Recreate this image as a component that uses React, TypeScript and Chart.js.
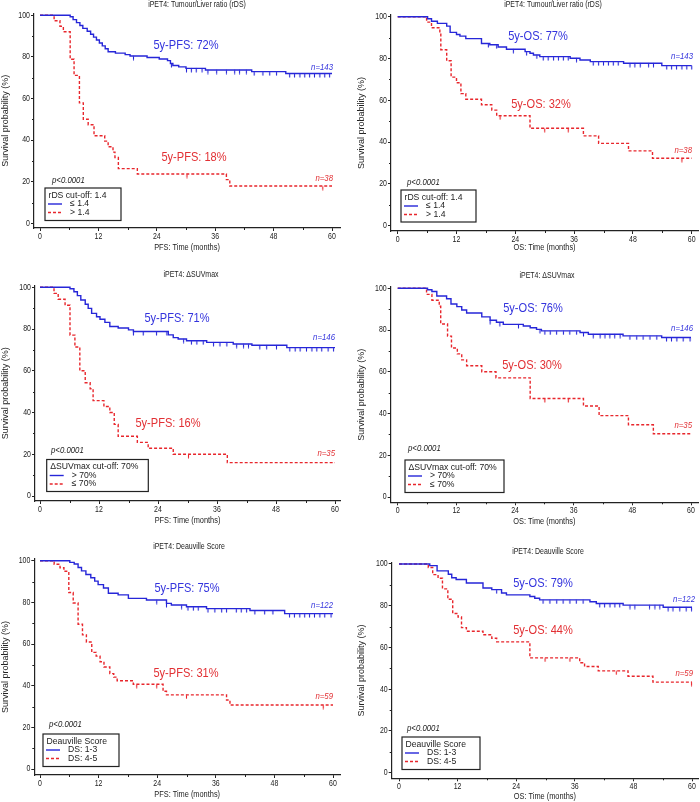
import React, { useEffect, useRef } from 'react';
import { Chart, registerables } from 'chart.js';
Chart.register(...registerables);

// ---------- tick values ----------
const X_TICKS = [0, 12, 24, 36, 48, 60];
const Y_TICKS = [0, 20, 40, 60, 80, 100];
const X_MINOR = [6, 18, 30, 42, 54];
const Y_MINOR = [10, 30, 50, 70, 90];

// ---------- Panel 1: PFS, rDS ----------
const p1BlueT = [0, 6.2, 6.8, 7.5, 8.2, 8.8, 9.7, 10.4, 11.0, 11.6, 12.2, 12.8, 13.4, 14.0, 15.5, 17.5, 18.5, 22.0, 24.5, 26.2, 26.8, 27.3, 28.5, 30.0, 34.0, 43.5, 50.5, 60];
const p1BlueS = [100, 99.3, 97.9, 96.5, 95.1, 93.7, 92.3, 90.9, 89.5, 88.1, 86.7, 85.3, 83.9, 82.5, 81.8, 81.1, 80.4, 79.7, 79.0, 78.2, 76.8, 75.9, 75.2, 74.5, 73.7, 72.9, 72.0, 72.0];
const p1BlueC = [19.2, 27.0, 30.1, 31.1, 32.1, 33.3, 34.5, 36.3, 38.3, 40.0, 41.0, 42.4, 44.0, 45.8, 47.2, 48.6, 51.3, 52.3, 53.4, 54.4, 55.4, 56.4, 57.5, 58.5, 59.5];
const p1RedT = [0, 2.9, 4.1, 4.8, 6.2, 7.0, 8.1, 8.9, 9.9, 11.1, 13.3, 14.0, 15.0, 15.4, 16.1, 20.0, 38.3, 39.0, 60];
const p1RedS = [100, 97.4, 94.7, 92.1, 78.9, 71.1, 57.9, 50.0, 47.4, 42.1, 39.5, 36.8, 34.2, 31.6, 26.3, 23.7, 21.0, 17.9, 17.9];
const p1RedC = [30.2, 58.1];

// ---------- Panel 2: OS, rDS ----------
const p2BlueT = [0, 6.1, 6.9, 8.1, 10.0, 10.7, 12.0, 12.7, 13.9, 17.1, 18.8, 20.5, 22.2, 26.0, 27.0, 27.7, 29.0, 35.2, 37.2, 39.3, 46.1, 53.9, 60];
const p2BlueS = [100, 99.0, 97.8, 96.8, 95.5, 92.5, 91.5, 90.7, 89.5, 87.2, 86.6, 85.5, 84.4, 83.3, 82.5, 81.7, 80.9, 80.1, 79.3, 78.5, 77.7, 76.6, 76.6];
const p2BlueC = [18.5, 20.2, 23.6, 26.3, 28.4, 29.7, 30.7, 31.8, 32.8, 33.8, 34.8, 36.5, 39.9, 41.0, 42.0, 43.0, 44.0, 45.0, 47.4, 48.4, 49.5, 51.2, 52.2, 54.9, 55.9, 56.9, 58.0, 59.0, 60.0];
const p2RedT = [0, 5.9, 6.9, 8.6, 8.8, 10.0, 10.9, 12.0, 12.9, 13.9, 17.1, 19.2, 20.2, 27.0, 37.9, 41.0, 47.1, 52.0, 60];
const p2RedS = [100, 97.4, 94.7, 92.1, 84.2, 78.9, 71.1, 68.4, 63.2, 60.5, 57.9, 55.3, 52.6, 46.6, 43.0, 39.4, 35.8, 32.3, 32.3];
const p2RedC = [20.9, 30.0, 34.8, 58.0];

// ---------- Panel 3: PFS, dSUVmax ----------
const p3BlueT = [0, 6.1, 6.9, 7.6, 8.3, 9.2, 9.8, 10.5, 11.5, 12.2, 13.2, 14.2, 15.9, 18.0, 19.0, 26.1, 27.1, 28.1, 29.8, 33.9, 39.3, 43.1, 50.2, 60];
const p3BlueS = [100, 99.3, 97.9, 96.0, 93.9, 91.9, 89.9, 87.5, 85.9, 84.7, 83.2, 81.2, 80.5, 79.6, 78.8, 77.2, 75.9, 75.2, 74.4, 73.6, 72.8, 72.2, 71.1, 71.1];
const p3BlueC = [19.0, 21.0, 23.7, 25.8, 29.2, 30.8, 31.9, 33.2, 35.3, 36.6, 38.0, 40.0, 41.4, 42.4, 44.7, 46.1, 48.1, 50.8, 51.9, 52.9, 54.2, 55.3, 56.3, 57.3, 58.6, 59.7];
const p3RedT = [0, 2.85, 3.7, 5.1, 6.1, 7.1, 8.1, 9.2, 10.2, 10.8, 13.0, 14.2, 15.1, 15.9, 19.8, 22.0, 27.1, 38.1, 60];
const p3RedS = [100, 97.1, 94.3, 91.4, 77.1, 71.4, 60.0, 54.3, 51.4, 45.7, 42.9, 40.0, 34.3, 28.6, 25.7, 22.9, 20.0, 16.0, 16.0];
const p3RedC = [30.2];

// ---------- Panel 4: OS, dSUVmax ----------
const p4BlueT = [0, 6.1, 7.0, 8.0, 10.0, 10.9, 12.1, 13.1, 14.1, 17.2, 18.9, 20.2, 21.6, 25.7, 27.1, 28.4, 29.4, 37.3, 39.0, 46.1, 54.0, 60];
const p4BlueS = [100, 99.3, 98.5, 96.3, 95.0, 92.5, 91.2, 89.6, 88.2, 86.3, 84.7, 83.7, 82.7, 81.9, 81.1, 80.3, 79.6, 78.8, 78.0, 77.2, 76.4, 76.4];
const p4BlueC = [18.9, 20.9, 24.7, 29.1, 30.1, 31.2, 32.5, 33.9, 35.2, 36.6, 38.0, 40.0, 41.4, 42.4, 43.4, 44.4, 45.5, 47.5, 48.9, 50.2, 51.6, 53.0, 55.0, 56.0, 57.1, 58.4, 59.8];
const p4RedT = [0, 5.9, 7.0, 8.5, 8.8, 10.2, 11.0, 12.2, 13.1, 14.1, 17.2, 20.1, 27.1, 38.0, 41.2, 47.2, 52.3, 60];
const p4RedS = [100, 97.1, 94.3, 91.4, 82.9, 77.1, 71.4, 68.6, 65.7, 62.9, 60.0, 57.1, 47.2, 43.6, 39.0, 34.6, 30.3, 30.3];
const p4RedC = [30.1, 34.9];

// ---------- Panel 5: PFS, Deauville ----------
const p5BlueT = [0, 6.1, 7.0, 7.8, 8.5, 9.4, 10.4, 11.2, 11.9, 13.0, 14.0, 16.0, 18.1, 21.8, 25.9, 26.9, 30.0, 34.1, 43.0, 50.1, 60];
const p5BlueS = [100, 99.2, 98.4, 96.7, 95.1, 93.4, 91.8, 90.2, 88.5, 86.9, 84.4, 83.6, 81.9, 81.1, 79.5, 78.7, 77.9, 77.0, 76.1, 74.6, 74.6];
const p5BlueC = [23.9, 25.9, 29.0, 30.3, 31.4, 32.4, 34.4, 35.8, 37.2, 38.2, 40.2, 41.2, 42.3, 44.0, 46.0, 47.7, 51.1, 52.1, 53.2, 54.2, 55.2, 56.2, 57.3, 58.3, 59.6];
const p5RedT = [0, 2.9, 4.1, 4.9, 5.9, 6.8, 7.8, 8.7, 9.5, 10.6, 11.5, 12.3, 13.1, 14.3, 15.1, 15.8, 19.1, 25.2, 25.9, 38.2, 38.9, 60];
const p5RedS = [100, 98.3, 96.6, 94.9, 84.7, 79.7, 69.5, 64.4, 61.0, 56.0, 54.2, 51.5, 49.0, 45.8, 44.1, 42.4, 40.7, 37.3, 35.6, 33.1, 30.7, 30.7];
const p5RedC = [19.8, 23.9, 30.0, 58.0];

// ---------- Panel 6: OS, Deauville ----------
const p6BlueT = [0, 6.3, 7.8, 10.1, 10.8, 11.7, 13.8, 17.2, 19.0, 21.0, 22.0, 26.8, 27.8, 28.8, 39.1, 40.4, 45.9, 54.1, 60];
const p6BlueS = [100, 99.2, 96.7, 95.1, 93.4, 92.6, 90.9, 88.5, 87.7, 86.1, 85.2, 84.4, 83.6, 82.8, 81.9, 81.1, 80.3, 79.3, 79.3];
const p6BlueC = [20.0, 29.5, 30.9, 32.3, 33.6, 35.0, 36.3, 37.7, 41.1, 42.1, 43.2, 44.2, 45.2, 47.3, 48.3, 51.3, 52.4, 53.4, 55.1, 56.1, 57.5, 58.8, 59.9];
const p6RedT = [0, 6.0, 6.9, 8.0, 8.9, 10.0, 11.0, 12.1, 12.8, 13.8, 17.2, 19.0, 20.0, 26.8, 37.0, 38.0, 40.8, 46.9, 52.0, 60];
const p6RedS = [100, 98.3, 94.9, 93.2, 88.1, 83.1, 76.3, 74.6, 69.5, 67.8, 66.1, 64.4, 62.7, 55.0, 52.7, 50.9, 48.8, 46.2, 43.4, 43.4];
const p6RedC = [29.9, 35.0, 44.5, 59.9];

// ---------- text ----------
const TITLES = ['iPET4: Tumour/Liver ratio (rDS)', 'iPET4: Tumour/Liver ratio (rDS)', 'iPET4: \u0394SUVmax', 'iPET4: \u0394SUVmax', 'iPET4: Deauville Score', 'iPET4: Deauville Score'];
const X_TITLES = ['PFS: Time (months)', 'OS: Time (months)', 'PFS: Time (months)', 'OS: Time (months)', 'PFS: Time (months)', 'OS: Time (months)'];
const BLUE_LABELS = ['5y-PFS: 72%', '5y-OS: 77%', '5y-PFS: 71%', '5y-OS: 76%', '5y-PFS: 75%', '5y-OS: 79%'];
const RED_LABELS = ['5y-PFS: 18%', '5y-OS: 32%', '5y-PFS: 16%', '5y-OS: 30%', '5y-PFS: 31%', '5y-OS: 44%'];
const N_BLUE = ['n=143', 'n=143', 'n=146', 'n=146', 'n=122', 'n=122'];
const N_RED = ['n=38', 'n=38', 'n=35', 'n=35', 'n=59', 'n=59'];
const LEG_TITLES = ['rDS cut-off: 1.4', 'rDS cut-off: 1.4', '\u0394SUVmax cut-off: 70%', '\u0394SUVmax cut-off: 70%', 'Deauville Score', 'Deauville Score'];
const LEG_BLUE = ['\u2264 1.4', '\u2264 1.4', '> 70%', '> 70%', 'DS: 1-3', 'DS: 1-3'];
const LEG_RED = ['> 1.4', '> 1.4', '\u2264 70%', '\u2264 70%', 'DS: 4-5', 'DS: 4-5'];
const P_TEXT = 'p<0.0001';
const Y_TITLE = 'Survival probability (%)';

const CURVES = [
  [p1BlueT, p1BlueS, p1BlueC, p1RedT, p1RedS, p1RedC],
  [p2BlueT, p2BlueS, p2BlueC, p2RedT, p2RedS, p2RedC],
  [p3BlueT, p3BlueS, p3BlueC, p3RedT, p3RedS, p3RedC],
  [p4BlueT, p4BlueS, p4BlueC, p4RedT, p4RedS, p4RedC],
  [p5BlueT, p5BlueS, p5BlueC, p5RedT, p5RedS, p5RedC],
  [p6BlueT, p6BlueS, p6BlueC, p6RedT, p6RedS, p6RedC],
];

// ---------- layout (page pixels) ----------
type Geo = {
  c: number[]; x0: number; x60: number; y100: number; y0: number;
  axL: number; axR: number; axT: number; axB: number; yTitleX: number; xTitleY: number;
  title: number[]; bl: number[]; rl: number[]; nb: number[]; nr: number[]; p: number[]; leg: number[];
};
const GEO: Geo[] = [
  { c: [0, 0, 350, 262], x0: 40, x60: 332, y100: 15.3, y0: 223.3, axL: 34, axR: 340, axT: 13.5, axB: 228, yTitleX: 5, xTitleY: 248,
    title: [197, 5], bl: [186, 45], rl: [194, 157], nb: [333, 67], nr: [333, 178], p: [52, 180], leg: [45, 188, 121, 220.5] },
  { c: [350, 0, 350, 262], x0: 397.7, x60: 691.7, y100: 16.7, y0: 225.7, axL: 391, axR: 698, axT: 15, axB: 231, yTitleX: 362, xTitleY: 248,
    title: [553, 5], bl: [538, 36], rl: [541, 104], nb: [693, 56], nr: [692, 150], p: [407, 182], leg: [401, 190, 476, 222] },
  { c: [0, 262, 350, 270], x0: 40, x60: 335, y100: 287.3, y0: 496, axL: 35, axR: 340, axT: 285.7, axB: 501, yTitleX: 5, xTitleY: 521,
    title: [191, 275], bl: [177, 318], rl: [168, 423], nb: [335, 337], nr: [335, 453], p: [51, 450], leg: [46.7, 459.5, 148.3, 491.5] },
  { c: [350, 262, 350, 270], x0: 397.7, x60: 691, y100: 288.3, y0: 497, axL: 390.7, axR: 698, axT: 287, axB: 502.3, yTitleX: 362, xTitleY: 522,
    title: [547, 276], bl: [533, 308], rl: [532, 365], nb: [693, 328], nr: [692, 425], p: [408, 448], leg: [405, 460, 504, 492.5] },
  { c: [0, 532, 350, 270], x0: 40, x60: 333, y100: 560.7, y0: 769, axL: 34.3, axR: 340, axT: 559, axB: 775, yTitleX: 5, xTitleY: 795,
    title: [189, 547], bl: [187, 588], rl: [186, 673], nb: [333, 605], nr: [333, 696], p: [49, 724], leg: [43, 734, 119, 766.5] },
  { c: [350, 532, 350, 270], x0: 399, x60: 692, y100: 564, y0: 772.7, axL: 391.7, axR: 698, axT: 562.5, axB: 778.3, yTitleX: 362, xTitleY: 797,
    title: [548, 552], bl: [543, 583], rl: [543, 630], nb: [695, 599], nr: [693, 673], p: [407, 728], leg: [402, 737, 480, 769.5] },
];

const REG = '"Liberation Sans", Arial, sans-serif';
const SQ = 0.82; // horizontal compression of the reference lettering
const BLUE = '#2626d8';
const RED = '#e8262c';
const BLUE_TXT = '#3333dd';
const RED_TXT = '#e23034';
const AXIS = '#222222';

function stepValue(T: number[], S: number[], t: number) {
  let v = S[0];
  for (let i = 0; i < T.length; i++) if (T[i] <= t) v = S[i];
  return v;
}

function makeTick(color: string) {
  const cv = document.createElement('canvas');
  cv.width = 3; cv.height = 9;
  const ctx = cv.getContext('2d')!;
  ctx.strokeStyle = color; ctx.lineWidth = 1.1;
  ctx.beginPath(); ctx.moveTo(1.5, 4.5); ctx.lineTo(1.5, 8.5); ctx.stroke();
  return cv;
}

function KMPanel({ idx }: { idx: number }) {
  const ref = useRef<HTMLCanvasElement>(null);
  const g = GEO[idx];
  const [cx, cy, cw, ch] = g.c;
  useEffect(() => {
    const [bT, bS, bC, rT, rS, rC] = CURVES[idx];
    const xPer = (g.x60 - g.x0) / 60;
    const yPer = (g.y0 - g.y100) / 100;
    const xMin = (g.axL - g.x0) / xPer;
    const xMax = (g.axR - g.x0) / xPer;
    const yMin = -(g.axB - g.y0) / yPer;
    const yMax = 100 + (g.y100 - g.axT) / yPer;

    const anno = {
      id: 'kmAnno' + idx,
      afterDraw(chart: any) {
        const ctx = chart.ctx as CanvasRenderingContext2D;
        const xs = chart.scales.x, ys = chart.scales.y;
        const ca = chart.chartArea;
        ctx.save();
        // minor ticks
        ctx.strokeStyle = AXIS; ctx.lineWidth = 1;
        X_MINOR.forEach((v) => {
          const px = Math.round(xs.getPixelForValue(v)) + 0.5;
          ctx.beginPath(); ctx.moveTo(px, ca.bottom); ctx.lineTo(px, ca.bottom + 2); ctx.stroke();
        });
        Y_MINOR.forEach((v) => {
          const py = Math.round(ys.getPixelForValue(v)) + 0.5;
          ctx.beginPath(); ctx.moveTo(ca.left - 2, py); ctx.lineTo(ca.left, py); ctx.stroke();
        });
        // text in canvas coordinates, horizontally compressed like the source lettering
        const C = (x: number, y: number, s: string, font: string, color: string, align: CanvasTextAlign, sx = SQ) => {
          ctx.save();
          ctx.font = font; ctx.fillStyle = color; ctx.textAlign = align; ctx.textBaseline = 'middle';
          ctx.translate(x, y); ctx.scale(sx, 1);
          ctx.fillText(s, 0, 0);
          ctx.restore();
        };
        const T = (x: number, y: number, s: string, font: string, color: string, align: CanvasTextAlign, sx = SQ) =>
          C(x - cx, y - cy, s, font, color, align, sx);
        // tick labels
        X_TICKS.forEach((v) => C(xs.getPixelForValue(v), ca.bottom + 8.5, String(v), `8.5px ${REG}`, '#222', 'center'));
        Y_TICKS.forEach((v) => C(ca.left - 4, ys.getPixelForValue(v), String(v), `8.5px ${REG}`, '#222', 'right'));
        // axis title (x)
        C((ca.left + ca.right) / 2, g.xTitleY - cy, X_TITLES[idx], `9px ${REG}`, '#222', 'center');
        T(g.title[0], g.title[1], TITLES[idx], `8.5px ${REG}`, '#222', 'center');
        T(g.bl[0], g.bl[1], BLUE_LABELS[idx], `13.5px ${REG}`, BLUE_TXT, 'center');
        T(g.rl[0], g.rl[1], RED_LABELS[idx], `13.5px ${REG}`, RED_TXT, 'center');
        T(g.nb[0], g.nb[1], N_BLUE[idx], `italic 9.5px ${REG}`, BLUE_TXT, 'right');
        T(g.nr[0], g.nr[1], N_RED[idx], `italic 9.5px ${REG}`, RED_TXT, 'right');
        T(g.p[0], g.p[1], P_TEXT, `italic 9.5px ${REG}`, '#222', 'left');
        // legend
        const [l, t, r, b] = g.leg;
        ctx.fillStyle = '#fff';
        ctx.fillRect(l - cx, t - cy, r - l, b - t);
        ctx.strokeStyle = AXIS; ctx.lineWidth = 1.2;
        ctx.strokeRect(l - cx, t - cy, r - l, b - t);
        const LF = `9px ${REG}`;
        T(l + 3.5, t + 7.5, LEG_TITLES[idx], LF, '#222', 'left', 0.96);
        ctx.lineWidth = 1.4;
        ctx.strokeStyle = BLUE; ctx.setLineDash([]);
        ctx.beginPath(); ctx.moveTo(l + 3 - cx, t + 16 - cy); ctx.lineTo(l + 17 - cx, t + 16 - cy); ctx.stroke();
        ctx.strokeStyle = RED; ctx.setLineDash([3, 2]);
        ctx.beginPath(); ctx.moveTo(l + 3 - cx, t + 24.5 - cy); ctx.lineTo(l + 17 - cx, t + 24.5 - cy); ctx.stroke();
        ctx.setLineDash([]);
        T(l + 25, t + 16, LEG_BLUE[idx], LF, '#222', 'left', 0.96);
        T(l + 25, t + 24.5, LEG_RED[idx], LF, '#222', 'left', 0.96);
        ctx.restore();
      },
    };

    const chart = new Chart(ref.current!, {
      type: 'line',
      data: {
        datasets: [
          { data: bT.map((t, i) => ({ x: t, y: bS[i] })), stepped: true, borderColor: BLUE, borderWidth: 1.4, pointRadius: 0, fill: false },
          { data: rT.map((t, i) => ({ x: t, y: rS[i] })), stepped: true, borderColor: RED, borderWidth: 1.4, borderDash: [3, 2], pointRadius: 0, fill: false },
          { data: bC.map((t) => ({ x: t, y: stepValue(bT, bS, t) })), showLine: false, pointStyle: makeTick(BLUE) as any, pointRadius: 2 },
          { data: rC.map((t) => ({ x: t, y: stepValue(rT, rS, t) })), showLine: false, pointStyle: makeTick(RED) as any, pointRadius: 2 },
        ],
      },
      options: {
        animation: false,
        responsive: false,
        devicePixelRatio: 1,
        events: [],
        layout: { autoPadding: false, padding: { left: 0, top: g.axT - cy, right: cx + cw - g.axR, bottom: 0 } },
        plugins: { legend: { display: false }, title: { display: false }, tooltip: { enabled: false } },
        scales: {
          x: {
            type: 'linear', min: xMin, max: xMax,
            afterBuildTicks: (s: any) => { s.ticks = X_TICKS.map((v) => ({ value: v })); },
            afterFit: (s: any) => { s.height = cy + ch - g.axB; },
            ticks: { display: false, autoSkip: false },
            grid: { drawOnChartArea: false, drawTicks: true, tickLength: 3, color: AXIS, lineWidth: 1 },
            border: { display: true, color: AXIS, width: 1.2 },
            title: { display: false },
          },
          y: {
            type: 'linear', min: yMin, max: yMax,
            afterBuildTicks: (s: any) => { s.ticks = Y_TICKS.map((v) => ({ value: v })); },
            afterFit: (s: any) => { s.width = g.axL - cx; },
            ticks: { display: false, autoSkip: false },
            grid: { drawOnChartArea: false, drawTicks: true, tickLength: 3, color: AXIS, lineWidth: 1 },
            border: { display: true, color: AXIS, width: 1.2 },
            title: { display: true, text: Y_TITLE, font: { family: REG, size: 9 }, color: '#222', padding: { top: Math.max(0, g.yTitleX - cx - 5.4), bottom: 0 } },
          },
        },
      } as any,
      plugins: [anno],
    });
    return () => chart.destroy();
  }, []);
  return (
    <canvas ref={ref} width={cw} height={ch}
      style={{ position: 'absolute', left: cx, top: cy, width: cw, height: ch }} />
  );
}

export default function App() {
  return (
    <div style={{ position: 'absolute', left: 0, top: 0, width: 700, height: 802, background: '#fff' }}>
      {GEO.map((_, i) => <KMPanel key={i} idx={i} />)}
    </div>
  );
}
